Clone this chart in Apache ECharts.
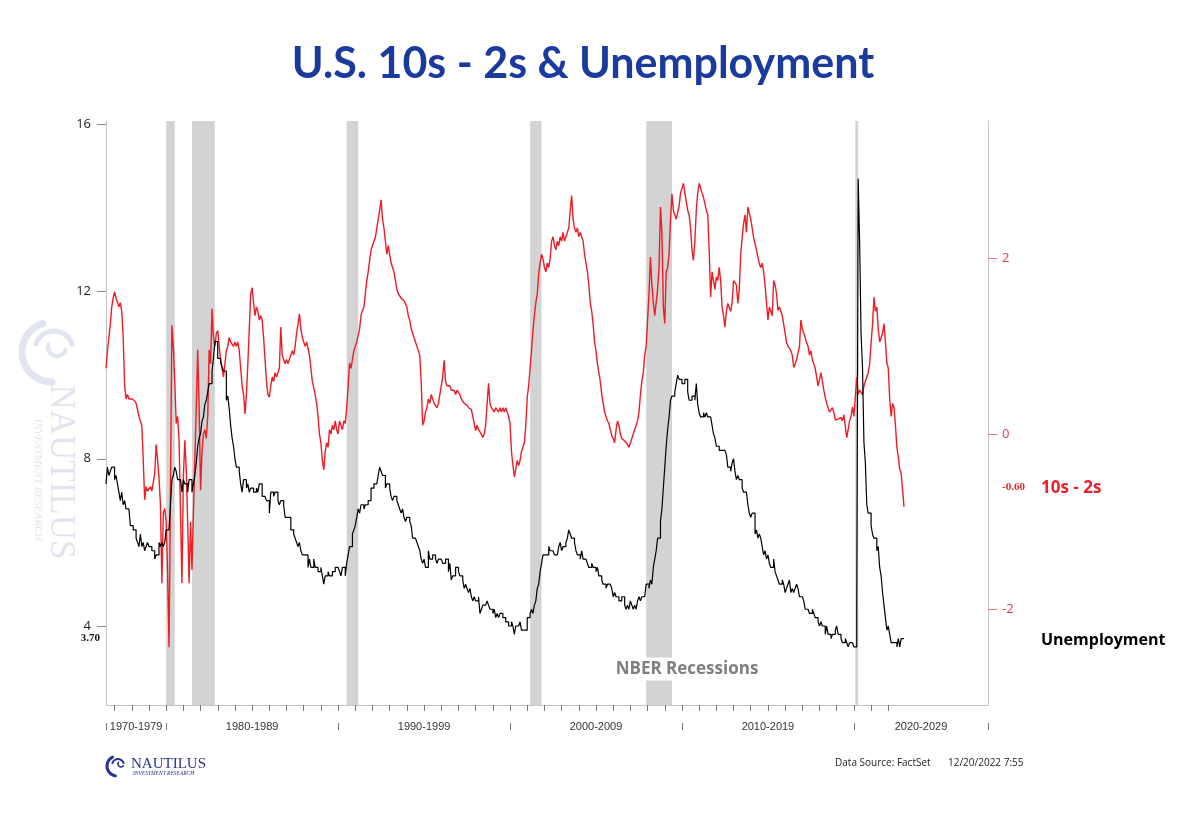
<!DOCTYPE html>
<html><head><meta charset="utf-8">
<script src="https://cdn.jsdelivr.net/npm/echarts@6.0.0/dist/echarts.min.js"></script>
<style>html,body{margin:0;padding:0;background:#fff}#chart{width:1200px;height:815px}</style>
</head><body><div id="chart"></div>
<script>
// Monthly series, first value = July 1976, one value per month
const seriesStart = 1976.5;
const spread10s2s = [
  0.75, 0.95, 1.1, 1.25, 1.45, 1.55,
  1.62, 1.55, 1.5, 1.45, 1.5, 1.4, 1.1, 0.55, 0.4, 0.45, 0.4, 0.4,
  0.4, 0.42, 0.38, 0.35, 0.28, 0.2, 0.15, 0.1, -0.3, -0.75, -0.6, -0.65,
  -0.64, -0.6, -0.65, -0.55, -0.45, -0.12, -0.3, -0.5, -0.8, -1.7, -0.9, -0.85,
  -1.0, -1.6, -2.43, -0.6, 1.24, 1.0, 0.6, 0.12, 0.2, -0.07, -0.9, -1.7,
  -0.5, -0.07, -0.4, -1.0, -1.7, -1.0, -1.55, -0.9, -0.3, 0.3, 0.96, 0.3,
  -0.64, -0.2, 0.0, 0.05, -0.05, 0.2, 0.96, 0.8, 1.43, 1.1, 1.0, 1.15,
  1.18, 1.0, 0.85, 0.75, 0.65, 0.8, 0.95, 1.0, 1.1, 1.05, 1.05, 1.0,
  1.05, 1.0, 1.05, 0.95, 0.75, 0.55, 0.45, 0.23, 0.45, 0.8, 1.2, 1.6,
  1.67, 1.5, 1.35, 1.45, 1.4, 1.3, 1.35, 1.3, 1.1, 0.85, 0.6, 0.45,
  0.42, 0.55, 0.65, 0.6, 0.7, 0.65, 0.7, 0.75, 1.22, 0.9, 0.85, 0.8,
  0.85, 0.8, 0.85, 0.9, 0.95, 0.9, 1.0, 1.15, 1.25, 1.37, 1.2, 1.1,
  1.05, 1.0, 1.05, 1.05, 0.9, 0.75, 0.6, 0.53, 0.45, 0.35, 0.2, 0.0,
  -0.1, -0.3, -0.41, -0.2, -0.1, -0.15, 0.05, 0.0, 0.1, 0.05, 0.15, 0.05,
  0.0, 0.15, 0.1, 0.05, 0.15, 0.12, 0.3, 0.55, 0.81, 0.75, 0.85, 0.95,
  1.0, 1.05, 1.07, 1.2, 1.35, 1.41, 1.45, 1.6, 1.75, 1.85, 1.98, 2.1,
  2.15, 2.2, 2.24, 2.35, 2.45, 2.55, 2.67, 2.45, 2.35, 2.2, 2.05, 2.15,
  2.05, 1.95, 1.9, 1.85, 1.75, 1.65, 1.6, 1.6, 1.55, 1.55, 1.52, 1.5,
  1.45, 1.35, 1.3, 1.2, 1.18, 1.1, 1.05, 1.0, 0.99, 0.9, 0.6, 0.1,
  0.15, 0.25, 0.3, 0.4, 0.35, 0.45, 0.4, 0.35, 0.35, 0.3, 0.35, 0.45,
  0.55, 0.65, 0.84, 0.6, 0.55, 0.55, 0.55, 0.5, 0.5, 0.5, 0.45, 0.5,
  0.5, 0.45, 0.4, 0.38, 0.35, 0.33, 0.33, 0.3, 0.3, 0.28, 0.2, 0.12,
  0.04, 0.1, 0.05, 0.05, 0.0, -0.04, 0.0, 0.1, 0.35, 0.58, 0.35, 0.3,
  0.3, 0.25, 0.3, 0.3, 0.25, 0.3, 0.25, 0.3, 0.25, 0.3, 0.3, 0.2,
  0.12, -0.2, -0.35, -0.49, -0.4, -0.3, -0.36, -0.3, -0.2, -0.15, -0.1, 0.1,
  0.42, 0.55, 0.75, 0.95, 1.18, 1.35, 1.5, 1.6, 1.83, 1.95, 2.05, 2.0,
  1.9, 1.85, 1.95, 1.9, 2.0, 2.2, 2.25, 2.15, 2.1, 2.2, 2.15, 2.25,
  2.2, 2.3, 2.2, 2.25, 2.3, 2.35, 2.55, 2.72, 2.45, 2.35, 2.3, 2.35,
  2.25, 2.3, 2.3, 2.2, 2.05, 1.95, 1.85, 1.7, 1.5, 1.4, 1.25, 1.05,
  0.95, 0.8, 0.7, 0.6, 0.45, 0.35, 0.25, 0.2, 0.15, 0.12, 0.05, -0.02,
  -0.05, -0.1, 0.05, 0.15, 0.1, 0.0, -0.05, -0.05, -0.08, -0.1, -0.12, -0.15,
  -0.1, -0.05, 0.0, 0.05, 0.05, 0.15, 0.25, 0.45, 0.6, 0.7, 0.9, 1.0,
  1.3, 1.6, 2.02, 1.7, 1.5, 1.35, 1.5, 1.65, 1.9, 2.59, 2.3, 1.45,
  1.26, 1.85, 1.9, 2.05, 2.45, 2.74, 2.55, 2.55, 2.45, 2.45, 2.6, 2.75,
  2.8, 2.86, 2.75, 2.75, 2.55, 2.5, 2.35, 2.1, 1.98, 2.2, 2.55, 2.75,
  2.86, 2.85, 2.75, 2.7, 2.63, 2.55, 2.5, 2.09, 1.56, 1.85, 1.75, 1.65,
  1.79, 1.75, 1.9, 1.75, 1.45, 1.35, 1.22, 1.4, 1.49, 1.5, 1.4, 1.5,
  1.75, 1.75, 1.7, 1.49, 1.65, 2.05, 2.24, 2.4, 2.5, 2.3, 2.59, 2.6,
  2.45, 2.35, 2.24, 2.25, 2.1, 2.1, 1.94, 1.9, 1.95, 1.85, 1.7, 1.5,
  1.3, 1.45, 1.4, 1.35, 1.75, 1.7, 1.6, 1.41, 1.45, 1.4, 1.35, 1.25,
  1.15, 1.04, 1.0, 1.0, 0.95, 0.9, 0.76, 0.8, 0.85, 0.85, 1.0, 1.3,
  1.2, 1.15, 1.1, 1.04, 1.0, 0.9, 0.95, 0.85, 0.8, 0.75, 0.65, 0.55,
  0.55, 0.7, 0.6, 0.5, 0.42, 0.35, 0.3, 0.25, 0.25, 0.3, 0.25, 0.16,
  0.17, 0.17, 0.15, 0.19, 0.15, 0.22, 0.22, -0.04, 0.05, 0.15, 0.2, 0.31,
  0.2, 0.2, 0.65, 0.45, 0.5, 0.5, 0.45, 0.55, 0.55, 0.65, 0.7, 0.8,
  1.04, 1.25, 1.56, 1.4, 1.45, 1.2, 1.05, 1.04, 1.15, 1.26, 1.05, 0.81,
  0.75, 0.4, 0.2, 0.35, 0.3, 0.1, -0.15, -0.26, -0.4, -0.45, -0.64, -0.83
];
const unemployment = [
  7.4, 7.8, 7.6, 7.7, 7.8, 7.8,
  7.5, 7.6, 7.4, 7.2, 7.0, 7.2, 6.9, 7.0, 6.8, 6.8, 6.8, 6.4,
  6.4, 6.3, 6.3, 6.1, 6.0, 5.9, 6.2, 5.9, 6.0, 5.8, 5.9, 6.0,
  5.9, 5.9, 5.8, 5.8, 5.6, 5.7, 5.7, 6.0, 5.9, 6.0, 5.9, 6.0,
  6.3, 6.3, 6.3, 6.9, 7.5, 7.6, 7.8, 7.7, 7.5, 7.5, 7.5, 7.2,
  7.5, 7.4, 7.4, 7.2, 7.5, 7.5, 7.2, 7.4, 7.6, 7.9, 8.3, 8.5,
  8.6, 8.9, 9.0, 9.3, 9.4, 9.6, 9.8, 9.8, 10.1, 10.4, 10.8, 10.8,
  10.4, 10.4, 10.3, 10.2, 10.1, 10.1, 9.4, 9.5, 9.2, 8.8, 8.5, 8.3,
  8.0, 7.8, 7.8, 7.7, 7.4, 7.2, 7.5, 7.5, 7.3, 7.4, 7.2, 7.3,
  7.3, 7.2, 7.2, 7.3, 7.2, 7.4, 7.4, 7.1, 7.1, 7.1, 7.0, 7.0,
  6.7, 7.2, 7.2, 7.1, 7.2, 7.2, 7.0, 6.9, 7.0, 7.0, 6.9, 6.6,
  6.6, 6.6, 6.6, 6.3, 6.3, 6.2, 6.1, 6.0, 5.9, 6.0, 5.8, 5.7,
  5.7, 5.7, 5.7, 5.4, 5.6, 5.4, 5.4, 5.6, 5.4, 5.4, 5.3, 5.3,
  5.4, 5.2, 5.0, 5.2, 5.2, 5.3, 5.2, 5.2, 5.3, 5.3, 5.4, 5.4,
  5.4, 5.3, 5.2, 5.4, 5.4, 5.2, 5.5, 5.7, 5.9, 5.9, 6.2, 6.3,
  6.4, 6.6, 6.8, 6.7, 6.9, 6.9, 6.8, 6.9, 6.9, 7.0, 7.0, 7.3,
  7.3, 7.4, 7.4, 7.4, 7.6, 7.8, 7.7, 7.6, 7.6, 7.3, 7.4, 7.4,
  7.3, 7.1, 7.0, 7.1, 7.1, 7.0, 6.9, 6.8, 6.7, 6.8, 6.6, 6.5,
  6.6, 6.6, 6.5, 6.4, 6.1, 6.1, 6.1, 6.0, 5.9, 5.8, 5.6, 5.5,
  5.6, 5.4, 5.4, 5.8, 5.6, 5.6, 5.7, 5.7, 5.6, 5.5, 5.6, 5.6,
  5.6, 5.5, 5.5, 5.6, 5.6, 5.3, 5.5, 5.1, 5.2, 5.2, 5.4, 5.4,
  5.3, 5.2, 5.2, 5.1, 4.9, 5.0, 4.9, 4.8, 4.9, 4.7, 4.6, 4.7,
  4.6, 4.6, 4.7, 4.3, 4.4, 4.5, 4.5, 4.5, 4.6, 4.5, 4.4, 4.4,
  4.3, 4.4, 4.2, 4.3, 4.2, 4.3, 4.3, 4.2, 4.2, 4.1, 4.1, 4.0,
  4.0, 4.1, 4.0, 3.8, 4.0, 4.0, 4.0, 4.1, 3.9, 3.9, 3.9, 3.9,
  4.2, 4.2, 4.3, 4.4, 4.3, 4.5, 4.6, 4.9, 5.0, 5.3, 5.5, 5.7,
  5.7, 5.7, 5.7, 5.9, 5.8, 5.8, 5.8, 5.7, 5.7, 5.7, 5.9, 6.0,
  5.8, 5.9, 5.9, 6.0, 6.1, 6.3, 6.2, 6.1, 6.1, 6.0, 5.8, 5.7,
  5.7, 5.6, 5.8, 5.6, 5.6, 5.6, 5.5, 5.4, 5.4, 5.5, 5.4, 5.4,
  5.3, 5.4, 5.2, 5.2, 5.1, 5.0, 5.0, 4.9, 5.0, 5.0, 5.0, 4.9,
  4.7, 4.8, 4.7, 4.7, 4.6, 4.6, 4.7, 4.7, 4.5, 4.4, 4.5, 4.4,
  4.6, 4.5, 4.4, 4.5, 4.4, 4.6, 4.7, 4.6, 4.7, 4.7, 4.7, 5.0,
  5.0, 4.9, 5.1, 5.0, 5.4, 5.6, 5.8, 6.1, 6.1, 6.5, 6.8, 7.3,
  7.8, 8.3, 8.7, 9.0, 9.4, 9.5, 9.5, 9.6, 9.8, 10.0, 9.9, 9.9,
  9.8, 9.8, 9.9, 9.9, 9.6, 9.4, 9.4, 9.5, 9.5, 9.4, 9.8, 9.3,
  9.1, 9.0, 9.0, 9.1, 9.0, 9.1, 9.0, 9.0, 9.0, 8.8, 8.6, 8.5,
  8.3, 8.3, 8.2, 8.2, 8.2, 8.2, 8.2, 8.1, 7.8, 7.8, 7.7, 7.9,
  8.0, 7.7, 7.5, 7.6, 7.5, 7.5, 7.3, 7.2, 7.2, 7.2, 6.9, 6.7,
  6.6, 6.7, 6.7, 6.2, 6.3, 6.1, 6.2, 6.1, 5.9, 5.7, 5.8, 5.6,
  5.7, 5.5, 5.4, 5.4, 5.6, 5.3, 5.2, 5.1, 5.0, 5.0, 5.1, 5.0,
  4.8, 4.9, 5.0, 5.1, 4.8, 4.9, 4.8, 4.9, 5.0, 4.9, 4.7, 4.7,
  4.7, 4.6, 4.4, 4.4, 4.4, 4.3, 4.3, 4.4, 4.3, 4.2, 4.2, 4.1,
  4.0, 4.1, 4.0, 4.0, 3.8, 4.0, 3.8, 3.8, 3.7, 3.8, 3.8, 3.9,
  4.0, 3.8, 3.8, 3.7, 3.6, 3.6, 3.7, 3.6, 3.5, 3.6, 3.6, 3.6,
  3.5, 3.5, 4.4, 14.7, 13.2, 11.0, 10.2, 8.4, 7.9, 6.9, 6.7, 6.7,
  6.4, 6.2, 6.1, 6.1, 5.8, 5.9, 5.4, 5.2, 4.8, 4.5, 4.2, 3.9,
  4.0, 3.8, 3.6, 3.6, 3.6, 3.6, 3.5, 3.7, 3.5, 3.7, 3.7, 3.7
];
const recessions = [[1980.0, 1980.5], [1981.5, 1982.83], [1990.5, 1991.17], [2001.17, 2001.83], [2007.92, 2009.42], [2020.08, 2020.25]];
const leftTicks = [4, 8, 12, 16];
const rightTicks = [-2, 0, 2];
const rightLabels = [-2, -0.6, 0, 2];
const decadeTicks = [1976.5, 1980, 1990, 2000, 2010, 2020, 2027.8];
const yearTicks = [1977,1978,1979,1980,1981,1982,1983,1984,1985,1986,1987,1988,1989,1990,1991,1992,1993,1994,1995,1996,1997,1998,1999,2000,2001,2002,2003,2004,2005,2006,2007,2008,2009,2010,2011,2012,2013,2014,2015,2016,2017,2018,2019,2020,2021,2022];
const decadeLabels = ['1970-1979', '1980-1989', '1990-1999', '2000-2009', '2010-2019', '2020-2029'];
const decadeLabelAt = [1978.25, 1985, 1995, 2005, 2015, 2023.9];

const X_MIN = 1976.5, X_MAX = 2027.8;
const RED = '#ee1c25';
const AXIS_GRAY = '#c4c4c4';

const spreadData = spread10s2s.map((v, i) => [seriesStart + i / 12, v]);
const unempData = unemployment.map((v, i) => [seriesStart + i / 12, v]);

const chart = echarts.init(document.getElementById('chart'), null, {renderer: 'canvas'});

function txt(x, y, text, font, fill, align, valign, extra) {
  return {
    type: 'text', x: x, y: y, z: 100,
    style: Object.assign({
      text: text, font: font, fill: fill,
      align: align, textAlign: align,
      verticalAlign: valign, textVerticalAlign: valign
    }, extra || {})
  };
}
function arc(cx, cy, r, a0, a1, color, w) {
  return {type: 'arc', z: 100, shape: {cx: cx, cy: cy, r: r, startAngle: a0, endAngle: a1},
    style: {stroke: color, lineWidth: w, fill: 'none', lineCap: 'round'}};
}

const WM = '#e1e4f1';
const LOGO = '#27368f';

const option = {
  animation: false,
  backgroundColor: '#fff',
  grid: {left: 106, right: 212, top: 121, bottom: 110, containLabel: false},
  xAxis: [
    {
      type: 'value', min: X_MIN, max: X_MAX, position: 'bottom',
      axisLine: {show: true, onZero: false, lineStyle: {color: AXIS_GRAY, width: 1}},
      axisTick: {show: true, customValues: yearTicks, length: 6, lineStyle: {color: '#777'}},
      axisLabel: {show: false},
      splitLine: {show: false}
    },
    {
      type: 'value', min: X_MIN, max: X_MAX, position: 'bottom', offset: 18,
      axisLine: {show: false, onZero: false},
      axisTick: {show: true, customValues: decadeTicks, length: 7, lineStyle: {color: '#777'}},
      axisLabel: {show: false},
      splitLine: {show: false}
    },
    {
      type: 'value', min: X_MIN, max: X_MAX, position: 'bottom', offset: 14,
      axisLine: {show: false, onZero: false},
      axisTick: {show: false},
      axisLabel: {
        show: true, customValues: decadeLabelAt, margin: 2,
        fontFamily: 'Liberation Sans', fontSize: 11, color: '#333',
        formatter: function (v) {
          for (let i = 0; i < decadeLabelAt.length; i++) {
            if (Math.abs(v - decadeLabelAt[i]) < 0.01) return decadeLabels[i];
          }
          return '';
        }
      },
      splitLine: {show: false}
    }
  ],
  yAxis: [
    {
      type: 'value', min: 2.11, max: 16.08, position: 'left',
      axisLine: {show: true, onZero: false, lineStyle: {color: AXIS_GRAY}},
      axisTick: {show: true, customValues: leftTicks, length: 9, lineStyle: {color: '#888'}},
      axisLabel: {customValues: leftTicks, margin: 15, fontFamily: 'Open Sans', fontSize: 13, color: '#222'},
      splitLine: {show: false}
    },
    {
      type: 'value', min: -3.09, max: 3.57, position: 'right',
      axisLine: {show: true, onZero: false, lineStyle: {color: AXIS_GRAY}},
      axisTick: {show: true, customValues: rightTicks, length: 9, lineStyle: {color: '#e8777b'}},
      axisLabel: {
        customValues: rightLabels, margin: 14, fontFamily: 'Open Sans', fontSize: 13, color: '#e8393f',
        formatter: function (v) {
          if (Math.abs(v + 0.6) < 1e-6) return '{s|-0.60}';
          return String(v);
        },
        rich: {s: {fontFamily: 'Liberation Serif', fontWeight: 'bold', fontSize: 11, color: '#e8262d'}}
      },
      splitLine: {show: false}
    }
  ],
  series: [
    {
      type: 'line', name: 'NBER Recessions', data: [], xAxisIndex: 0, yAxisIndex: 0, z: 1, silent: true,
      markArea: {
        silent: true,
        itemStyle: {color: '#d3d3d3', opacity: 1},
        data: recessions.map(r => [{xAxis: r[0]}, {xAxis: r[1]}])
      }
    },
    {
      type: 'line', name: '10s - 2s', data: spreadData, xAxisIndex: 0, yAxisIndex: 1, z: 2,
      showSymbol: false, symbol: 'none', lineStyle: {color: RED, width: 1.4}
    },
    {
      type: 'line', name: 'Unemployment', data: unempData, xAxisIndex: 0, yAxisIndex: 0, z: 3,
      step: 'end', showSymbol: false, symbol: 'none', lineStyle: {color: '#000', width: 1.2}
    }
  ],
  graphic: [
    txt(583, 64, 'U.S. 10s - 2s & Unemployment', 'bold 43px Lato', '#1b3a9e', 'center', 'middle'),
    txt(687, 669, 'NBER Recessions', 'bold 17px "Open Sans"', '#7f7f7f', 'center', 'middle',
        {backgroundColor: '#fff', padding: [3, 2, 3, 2]}),
    txt(1041, 488, '10s - 2s', 'bold 17px "Open Sans"', '#e8232a', 'left', 'middle'),
    txt(1041, 640, 'Unemployment', 'bold 16px "Open Sans"', '#000', 'left', 'middle'),
    txt(100, 638, '3.70', 'bold 11px "Liberation Serif"', '#111', 'right', 'middle'),
    txt(835, 763, 'Data Source: FactSet', '10px "Open Sans"', '#222', 'left', 'middle'),
    txt(948, 763, '12/20/2022 7:55', '10px "Open Sans"', '#222', 'left', 'middle'),
    // bottom-left logo
    arc(117, 766, 10, Math.PI * 0.55, Math.PI * 1.35, LOGO, 3),
    arc(118, 765, 6, Math.PI * 1.1, Math.PI * 1.9, LOGO, 2),
    arc(121, 764, 3, Math.PI * 0.2, Math.PI * 1.2, LOGO, 1.5),
    txt(131, 764, 'NAUTILUS', '15px "Liberation Serif"', LOGO, 'left', 'middle'),
    txt(133, 774, 'INVESTMENT RESEARCH', 'italic 5.5px "Liberation Serif"', LOGO, 'left', 'middle'),
    // watermark
    arc(52, 352, 30, Math.PI * 0.5, Math.PI * 1.4, WM, 7),
    arc(54, 350, 19, Math.PI * 1.1, Math.PI * 1.9, WM, 5),
    arc(57, 347, 9, Math.PI * 0.1, Math.PI * 1.1, WM, 4),
    Object.assign(txt(60, 472, 'NAUTILUS', '35px "Liberation Serif"', WM, 'center', 'middle'), {rotation: -Math.PI / 2, z: 0}),
    Object.assign(txt(38, 480, 'INVESTMENT RESEARCH', 'italic 11px "Liberation Serif"', WM, 'center', 'middle'), {rotation: -Math.PI / 2, z: 0})
  ]
};
chart.setOption(option);
</script>
</body></html>
